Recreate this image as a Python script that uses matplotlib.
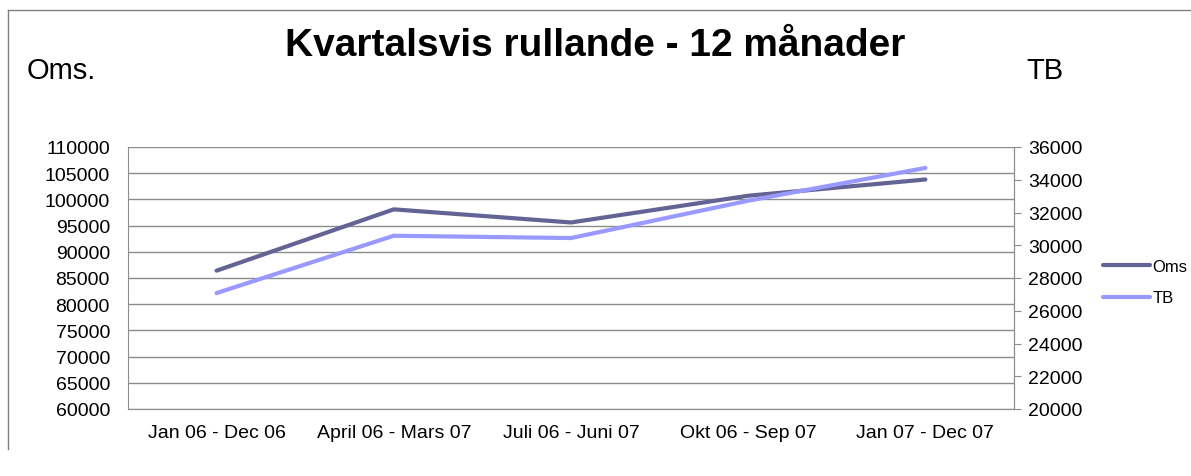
import matplotlib
matplotlib.use("Agg")
import matplotlib.pyplot as plt
from matplotlib.lines import Line2D

plt.rcParams['font.family'] = ['Liberation Sans', 'DejaVu Sans']

# data
perioder = ["Jan 06 - Dec 06", "April 06 - Mars 07", "Juli 06 - Juni 07",
            "Okt 06 - Sep 07", "Jan 07 - Dec 07"]
oms = [86400, 98100, 95600, 100700, 103800]
tb = [27080, 30580, 30440, 32720, 34720]

oms_color = "#636394"
tb_color = "#9999ff"
grid_color = "#8c8c8c"

fig = plt.figure(figsize=(11.91, 4.77), dpi=100)
ax = fig.add_axes([128/1191, 1-410/477, (1014-128)/1191, (410-148)/477])
ax2 = ax.twinx()

x = list(range(len(perioder)))
l1, = ax.plot(x, oms, color=oms_color, lw=3, solid_capstyle='round', zorder=3)
l2, = ax2.plot(x, tb, color=tb_color, lw=3, solid_capstyle='round', zorder=3)

ax.set_xlim(-0.5, 4.5)
ax.set_ylim(60000, 110000)
ax.set_yticks(range(60000, 110001, 5000))
ax2.set_ylim(20000, 36000)
ax2.set_yticks(range(20000, 36001, 2000))
ax.set_xticks(x)
ax.set_xticklabels(perioder)

ax.yaxis.grid(True, color=grid_color, lw=1)
ax.set_axisbelow(True)

for a in (ax, ax2):
    for s in a.spines.values():
        s.set_color(grid_color)
    a.spines['top'].set_visible(False)
ax2.spines['left'].set_visible(False)
ax2.spines['bottom'].set_visible(False)

ax.tick_params(axis='x', length=0, labelsize=14, pad=11)
ax.tick_params(axis='y', length=0, labelsize=14, pad=13)
ax2.tick_params(axis='y', length=5, color=grid_color, labelsize=14, pad=5)

fig.text(0.5, 1-46/477, "Kvartalsvis rullande - 12 månader",
         ha='center', va='center', fontsize=28, fontweight='bold')
fig.text(27/1191, 1-71/477, "Oms.", ha='left', va='center', fontsize=21)
fig.text(1026/1191, 1-71/477, "TB", ha='left', va='center', fontsize=21)

fig.legend([l1, l2], ["Oms", "TB"], loc='center left',
           bbox_to_anchor=(1088/1191, 1-283/477), frameon=False,
           fontsize=12, handlelength=2.8, handletextpad=0.15, labelspacing=1.0)

# chart area border (top and left edges visible)
fig.add_artist(Line2D([8/1191, 1], [1-11/477, 1-11/477], color="#7f7f7f", lw=1))
fig.add_artist(Line2D([8/1191, 8/1191], [1-11/477, 1-450/477], color="#7f7f7f", lw=1))

fig.savefig("out.png", dpi=100)
